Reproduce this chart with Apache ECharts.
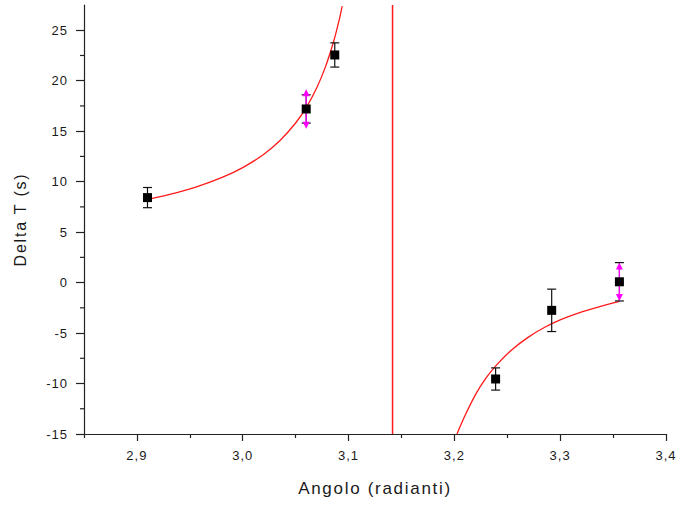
<!DOCTYPE html>
<html>
<head>
<meta charset="utf-8">
<script src="https://cdn.jsdelivr.net/npm/echarts@6/dist/echarts.min.js"></script>
<style>
  html, body { margin: 0; padding: 0; background: #fff; }
  #chart { width: 678px; height: 506px; }
  /* slightly wider spacing for the axis texts */
  #chart text[style*="13px"] { letter-spacing: 1px; }
  #chart text[style*="16px"] { letter-spacing: 1.8px; }
  #chart text[style*="17px"] { letter-spacing: 1.7px; }
</style>
</head>
<body>
<div id="chart"></div>
<script>
// Measured points: angle (rad), Delta T (s) and its uncertainty
const angle     = [2.910, 3.060, 3.087, 3.239, 3.292, 3.356];
const deltaT    = [8.42, 17.2, 22.55, -9.55, -2.75, 0.08];
const deltaTErr = [1.0, 1.4, 1.2, 1.1, 2.1, 1.9];
// Second uncertainty, drawn as magenta arrows (only on some points)
const arrowErr  = [null, 1.95, null, null, null, 1.9];

// Fitted curve, branch left of the asymptote
const fitLeftX = [2.910, 2.930, 2.955, 2.980, 3.000, 3.020, 3.035, 3.050, 3.060, 3.070, 3.078, 3.086, 3.091, 3.094];
const fitLeftY = [8.25, 8.72, 9.44, 10.39, 11.39, 12.72, 14.05, 15.81, 17.34, 19.31, 21.32, 23.91, 25.95, 27.4];
// Fitted curve, branch right of the asymptote
const fitRightX = [3.2025, 3.210, 3.220, 3.230, 3.240, 3.255, 3.270, 3.285, 3.300, 3.315, 3.330, 3.345, 3.356];
const fitRightY = [-15.0, -13.2, -11.1, -9.45, -8.15, -6.6, -5.4, -4.45, -3.7, -3.1, -2.6, -2.15, -1.85];

// Vertical asymptote at x = pi
const asymptoteX = 3.1416;

// Axis ranges and tick positions
const xMin = 2.85, xMax = 3.4;
const yMin = -15, yMax = 27.5;
const xMajorTicks = [2.9, 3.0, 3.1, 3.2, 3.3, 3.4];
const xMinorTicks = [2.85, 2.95, 3.05, 3.15, 3.25, 3.35];
const yMajorTicks = [-15, -10, -5, 0, 5, 10, 15, 20, 25];
const yMinorTicks = [-12.5, -7.5, -2.5, 2.5, 7.5, 12.5, 17.5, 22.5];

const FONT = '"Liberation Sans", Arial, sans-serif';
const INK = '#1a1a1a';
const AXIS_COLOR = '#222';

const zip = (xs, ys) => xs.map((x, i) => [x, ys[i]]);
const pointData = angle.map((x, i) => [x, deltaT[i], deltaTErr[i]]);
const arrowData = angle.map((x, i) => [x, deltaT[i], arrowErr[i]]).filter(d => d[2] != null);

function renderErrorBar(params, api) {
  const x = api.value(0), y = api.value(1), e = api.value(2);
  const top = api.coord([x, y + e]);
  const bot = api.coord([x, y - e]);
  const hw = 4.5;
  const st = { stroke: '#111', lineWidth: 1.2 };
  return {
    type: 'group',
    children: [
      { type: 'line', shape: { x1: top[0], y1: top[1], x2: bot[0], y2: bot[1] }, style: st },
      { type: 'line', shape: { x1: top[0] - hw, y1: top[1], x2: top[0] + hw, y2: top[1] }, style: st },
      { type: 'line', shape: { x1: bot[0] - hw, y1: bot[1], x2: bot[0] + hw, y2: bot[1] }, style: st }
    ]
  };
}

function renderArrowBar(params, api) {
  const x = api.value(0), y = api.value(1), e = api.value(2);
  const top = api.coord([x, y + e]);
  const bot = api.coord([x, y - e]);
  const hw = 3.5, h = 7;
  const col = '#ff00ff';
  return {
    type: 'group',
    children: [
      { type: 'line', shape: { x1: top[0], y1: top[1] + 2, x2: bot[0], y2: bot[1] - 2 }, style: { stroke: col, lineWidth: 1.3 } },
      { type: 'polygon', shape: { points: [[top[0], top[1]], [top[0] - hw, top[1] + h], [top[0] + hw, top[1] + h]] }, style: { fill: col } },
      { type: 'polygon', shape: { points: [[bot[0], bot[1]], [bot[0] - hw, bot[1] - h], [bot[0] + hw, bot[1] - h]] }, style: { fill: col } }
    ]
  };
}

// Short minor ticks on the left side of the value axis
function renderMinorTick(params, api) {
  const p = api.coord([api.value(0), api.value(1)]);
  return {
    type: 'line', silent: true,
    shape: { x1: p[0] - 4, y1: p[1], x2: p[0], y2: p[1] },
    style: { stroke: AXIS_COLOR, lineWidth: 1.2 }
  };
}

const chart = echarts.init(document.getElementById('chart'), null, { renderer: 'svg' });

const axisLineStyle = { color: AXIS_COLOR, width: 1.2 };

chart.setOption({
  animation: false,
  backgroundColor: '#fff',
  grid: { left: 84, right: 10, top: 5, bottom: 72, containLabel: false },
  xAxis: [
    {
      type: 'value', min: xMin, max: xMax, position: 'bottom',
      name: 'Angolo (radianti)', nameLocation: 'middle', nameGap: 46,
      nameTextStyle: { fontFamily: FONT, fontSize: 17, color: INK },
      axisLine: { show: true, onZero: false, lineStyle: axisLineStyle },
      axisTick: { show: true, length: 7, customValues: xMajorTicks, lineStyle: axisLineStyle },
      axisLabel: {
        show: true, margin: 15, customValues: xMajorTicks,
        fontFamily: FONT, fontSize: 13, color: INK,
        formatter: v => v.toFixed(1).replace('.', ',')
      },
      splitLine: { show: false }
    },
    {
      type: 'value', min: xMin, max: xMax, position: 'bottom',
      axisLine: { show: false, onZero: false },
      axisTick: { show: true, length: 4, customValues: xMinorTicks, lineStyle: axisLineStyle },
      axisLabel: { show: false },
      splitLine: { show: false }
    }
  ],
  yAxis: [
    {
      type: 'value', min: yMin, max: yMax, position: 'left',
      name: 'Delta T (s)', nameLocation: 'middle', nameGap: 56,
      nameTextStyle: { fontFamily: FONT, fontSize: 16, color: INK },
      axisLine: { show: true, onZero: false, lineStyle: axisLineStyle },
      axisTick: { show: true, length: 8, customValues: yMajorTicks, lineStyle: axisLineStyle },
      axisLabel: {
        show: true, margin: 16, customValues: yMajorTicks,
        fontFamily: FONT, fontSize: 13, color: INK,
        formatter: v => String(v)
      },
      splitLine: { show: false }
    }
  ],
  series: [
    {
      name: 'fit-left', type: 'line', data: zip(fitLeftX, fitLeftY),
      smooth: 0.3, showSymbol: false, symbol: 'none', clip: true,
      lineStyle: { color: '#ff1a1a', width: 1.3 }, z: 2
    },
    {
      name: 'fit-right', type: 'line', data: zip(fitRightX, fitRightY),
      smooth: 0.3, showSymbol: false, symbol: 'none', clip: true,
      lineStyle: { color: '#ff1a1a', width: 1.3 }, z: 2
    },
    {
      name: 'asymptote', type: 'line', data: [[asymptoteX, yMin], [asymptoteX, yMax]],
      showSymbol: false, symbol: 'none',
      lineStyle: { color: '#ff1a1a', width: 1.5 }, z: 2
    },
    {
      name: 'y-minor-ticks', type: 'custom', silent: true, clip: false,
      data: yMinorTicks.map(v => [xMin, v]),
      encode: { x: 0, y: 1 }, renderItem: renderMinorTick, z: 1
    },
    {
      name: 'errors', type: 'custom', data: pointData,
      encode: { x: 0, y: 1 }, renderItem: renderErrorBar, z: 3
    },
    {
      name: 'arrows', type: 'custom', data: arrowData,
      encode: { x: 0, y: 1 }, renderItem: renderArrowBar, z: 4
    },
    {
      name: 'points', type: 'scatter', data: pointData.map(d => [d[0], d[1]]),
      symbol: 'rect', symbolSize: 9,
      itemStyle: { color: '#000', opacity: 1 }, z: 5
    }
  ]
});
</script>
</body>
</html>
